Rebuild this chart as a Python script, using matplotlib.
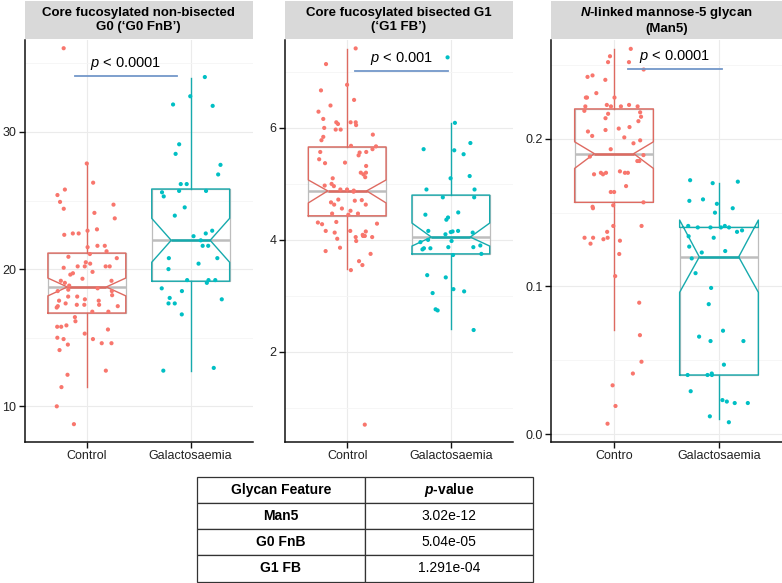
import numpy as np
import matplotlib
matplotlib.use("Agg")
import matplotlib.pyplot as plt
from matplotlib.ticker import FixedLocator, FormatStrFormatter

plt.rcParams['font.family'] = ['Liberation Sans', 'DejaVu Sans']
plt.rcParams['mathtext.fontset'] = 'custom'
plt.rcParams['mathtext.rm'] = 'Liberation Sans'
plt.rcParams['mathtext.it'] = 'Liberation Sans:italic'
plt.rcParams['mathtext.bf'] = 'Liberation Sans:italic:bold'

# ---- data ----
titles = ["Core fucosylated non-bisected\nG0 (\u2018G0 FnB\u2019)",
          "Core fucosylated bisected G1\n(\u2018G1 FB\u2019)",
          "$\\mathbf{N}$-linked mannose-5 glycan\n(Man5)"]
xlabels = [["Control", "Galactosaemia"],
           ["Control", "Galactosaemia"],
           ["Contro", "Galactosaemia"]]

g0_control = [36.1, 27.7, 26.3, 25.4, 25.8, 24.7, 24.9, 24.4, 23.7, 24.1, 22.6, 22.8, 22.9,
              22.6, 22.5, 21.7, 21.7, 21.6, 21.3, 21.1, 20.8, 20.9, 20.4, 20.5, 20.2, 19.8,
              19.6, 20.2, 20.2, 20.1, 20.2, 19.7, 19.15, 19.15, 19.3, 19.0, 18.6, 18.5, 18.4,
              18.8, 18.4, 18.0, 18.0, 17.8, 18.1, 17.4, 17.4, 17.2, 17.5, 17.3, 17.4, 17.7,
              17.7, 17.3, 16.9, 16.9, 16.5, 16.2, 15.8, 15.9, 15.8, 15.6, 15.3, 14.9, 14.6,
              14.5, 14.1, 14.9, 14.6, 15.0, 12.6, 12.3, 11.4, 10.0, 8.7]
g0_galacto = [34.0, 32.6, 31.9, 32.0, 29.1, 28.4, 27.6, 26.9, 26.2, 26.2, 25.7, 25.7, 25.6,
              25.3, 24.5, 23.9, 22.8, 22.6, 22.4, 22.1, 21.7, 21.7, 20.8, 20.8, 20.4, 20.0,
              19.2, 19.2, 19.2, 19.0, 18.6, 18.4, 17.9, 17.8, 17.5, 17.5, 16.7, 12.6, 12.8]

g1_control = [7.42, 7.14, 6.77, 6.67, 6.5, 6.40, 6.29, 6.16, 6.1, 6.1, 6.1, 6.05, 6.07, 6.0,
              5.97, 5.97, 5.88, 5.84, 5.78, 5.68, 5.67, 5.62, 5.56, 5.57, 5.57, 5.51, 5.37,
              5.38, 5.44, 5.2, 5.2, 5.32, 5.17, 5.1, 5.12, 5.0, 4.97, 4.9, 4.9, 4.96, 4.88,
              4.86, 4.67, 4.7, 4.72, 4.71, 4.63, 4.63, 4.56, 4.52, 4.47, 4.45, 4.47, 4.29,
              4.28, 4.32, 4.16, 4.31, 4.16, 4.15, 4.07, 4.05, 4.05, 4.07, 4.13, 3.98, 4.02,
              4.09, 3.86, 3.8, 3.75, 3.62, 3.55, 3.46, 0.70]
g1_galacto = [7.26, 6.09, 5.62, 5.6, 5.73, 5.53, 5.14, 5.1, 4.9, 4.9, 4.76, 4.76, 4.45, 4.49,
              4.4, 4.36, 4.13, 4.16, 4.16, 4.1, 4.15, 4.14, 4.0, 3.98, 3.87, 3.85, 3.96, 3.85,
              3.87, 3.9, 3.83, 3.75, 3.73, 3.37, 3.33, 3.05, 3.08, 3.12, 2.74, 2.76, 2.39]

man5_control = [0.261, 0.256, 0.252, 0.252, 0.247, 0.242, 0.243, 0.240, 0.228, 0.228, 0.228,
                0.231, 0.223, 0.223, 0.222, 0.219, 0.222, 0.222, 0.222, 0.218, 0.214, 0.212,
                0.215, 0.217, 0.208, 0.206, 0.202, 0.207, 0.205, 0.201, 0.197, 0.199, 0.193,
                0.188, 0.185, 0.185, 0.189, 0.178, 0.177, 0.177, 0.176, 0.177, 0.177, 0.176,
                0.168, 0.164, 0.164, 0.157, 0.153, 0.155, 0.154, 0.141, 0.141, 0.132, 0.133,
                0.131, 0.133, 0.129, 0.133, 0.137, 0.122, 0.107, 0.089, 0.067, 0.049, 0.041,
                0.033, 0.019, 0.007]
man5_galacto = [0.170, 0.172, 0.171, 0.159, 0.158, 0.156, 0.153, 0.150, 0.140, 0.140, 0.140,
                0.141, 0.141, 0.140, 0.138, 0.133, 0.137, 0.134, 0.127, 0.124, 0.123, 0.119,
                0.109, 0.099, 0.088, 0.070, 0.063, 0.063, 0.066, 0.047, 0.040, 0.041, 0.040,
                0.040, 0.029, 0.023, 0.022, 0.021, 0.021, 0.012, 0.008]

# box stats: q1, median, q3, lower whisker, upper whisker, notch low, notch high
g0_boxes = [(16.8, 18.7, 21.17, 11.4, 27.7, 18.05, 19.35),
            (19.12, 22.1, 25.84, 12.6, 33.9, 20.5, 23.7)]
g1_boxes = [(4.43, 4.875, 5.66, 3.48, 7.41, 4.66, 5.07),
            (3.75, 4.05, 4.80, 2.41, 6.09, 3.89, 4.30)]
man5_boxes = [(0.157, 0.190, 0.2203, 0.0708, 0.261, 0.180, 0.198),
              (0.040, 0.120, 0.140, 0.0102, 0.170, 0.096, 0.145)]

# p-value bars: label, x from, x to, y
p_labels = ["$p$ < 0.0001", "$p$ < 0.001", "$p$ < 0.0001"]
p_x0 = [0.885, 1.077, 1.13]
p_x1 = [1.865, 1.97, 2.03]
p_y = [34.1, 7.02, 0.2475]

y_limits = [(7.4, 36.7), (0.39, 7.57), (-0.0054, 0.267)]
y_major = [[10, 20, 30], [2, 4, 6], [0.0, 0.1, 0.2]]
y_minor = [[15, 25, 35], [1, 3, 5, 7], [0.05, 0.15, 0.25]]

table_features = ["Man5", "G0 FnB", "G1 FB"]
table_pvalues = ["3.02e-12", "5.04e-05", "1.291e-04"]

# ---- drawing ----
colors_pt = ["#F8766D", "#00BFC4"]
colors_ln = ["#DE6A61", "#16AAAD"]
W, H = 782, 583


def rect(l, t, r, b):
    return [l / W, 1 - b / H, (r - l) / W, (b - t) / H]


fig = plt.figure(figsize=(W / 100, H / 100), dpi=100)
rng = np.random.default_rng(11)

series = [(g0_control, g0_galacto), (g1_control, g1_galacto), (man5_control, man5_galacto)]
boxes = [g0_boxes, g1_boxes, man5_boxes]
panel_x = [(24.5, 253), (285, 513), (551, 782)]

for i in range(3):
    left, right = panel_x[i]
    ax = fig.add_axes(rect(left, 40, right, 442))
    sax = fig.add_axes(rect(left, 1, right, 39))
    sax.set_facecolor("#D9D9D9")
    sax.set_xticks([])
    sax.set_yticks([])
    for s in sax.spines.values():
        s.set_visible(False)
    sax.text(0.5, 0.5, titles[i], ha="center", va="center", fontsize=9.5,
             fontweight="bold", linespacing=1.15, transform=sax.transAxes)

    for g in range(2):
        q1, med, q3, lo, hi, clo, chi = boxes[i][g]
        st = [dict(q1=q1, med=med, q3=q3, whislo=lo, whishi=hi, cilo=clo, cihi=chi, fliers=[])]
        # grey plain box underneath
        ax.bxp(st, positions=[g + 1], widths=0.75, showfliers=False, showcaps=False,
               boxprops=dict(color="#BDBDBD", lw=0.9),
               medianprops=dict(color="#BDBDBD", lw=1.8),
               whiskerprops=dict(linestyle="none"), zorder=2)
        ax.bxp(st, positions=[g + 1], widths=0.75, showfliers=False, showcaps=False,
               shownotches=True,
               boxprops=dict(color=colors_ln[g], lw=1.0),
               medianprops=dict(color=colors_ln[g], lw=1.8),
               whiskerprops=dict(color=colors_ln[g], lw=1.0), zorder=3)
        vals = np.array(series[i][g])
        xs = (g + 1) + rng.uniform(-0.3, 0.3, len(vals))
        ax.scatter(xs, vals, s=9, color=colors_pt[g], edgecolors="none", zorder=4)

    ax.plot([p_x0[i], p_x1[i]], [p_y[i], p_y[i]], color="#7397C9", lw=1.3, zorder=5)
    ax.annotate(p_labels[i], ((p_x0[i] + p_x1[i]) / 2, p_y[i]), xytext=(0, 3),
                textcoords="offset points", ha="center", va="bottom", fontsize=10.5,
                zorder=5)

    ax.set_xlim(0.4, 2.6)
    ax.set_ylim(*y_limits[i])
    ax.set_xticks([1, 2])
    ax.set_xticklabels(xlabels[i])
    ax.yaxis.set_major_locator(FixedLocator(y_major[i]))
    ax.yaxis.set_minor_locator(FixedLocator(y_minor[i]))
    if i == 2:
        ax.yaxis.set_major_formatter(FormatStrFormatter("%.1f"))
    ax.grid(True, which="major", color="#EBEBEB", lw=0.8, zorder=0)
    ax.grid(True, which="minor", axis="y", color="#F5F5F5", lw=0.6, zorder=0)
    ax.set_axisbelow(True)
    for s in ["top", "right"]:
        ax.spines[s].set_visible(False)
    for s in ["left", "bottom"]:
        ax.spines[s].set_color("#111111")
        ax.spines[s].set_linewidth(1.1)
    ax.tick_params(which="major", length=4, width=1.0, color="#111111", pad=2,
                   labelsize=9, labelcolor="#222222")
    ax.tick_params(which="minor", length=0)

# table
tax = fig.add_axes(rect(197, 477, 533, 581.5))
tax.axis("off")
cells = [["Glycan Feature", "$\\mathbf{p}$-value"]] + \
        [[f, p] for f, p in zip(table_features, table_pvalues)]
tbl = tax.table(cellText=cells, cellLoc="center", bbox=[0, 0, 1, 1])
tbl.auto_set_font_size(False)
for (r, c), cell in tbl.get_celld().items():
    cell.set_edgecolor("#333333")
    cell.set_linewidth(0.9)
    txt = cell.get_text()
    txt.set_fontsize(10)
    if r == 0 or c == 0:
        txt.set_fontweight("bold")

fig.savefig("out.png", dpi=100)
